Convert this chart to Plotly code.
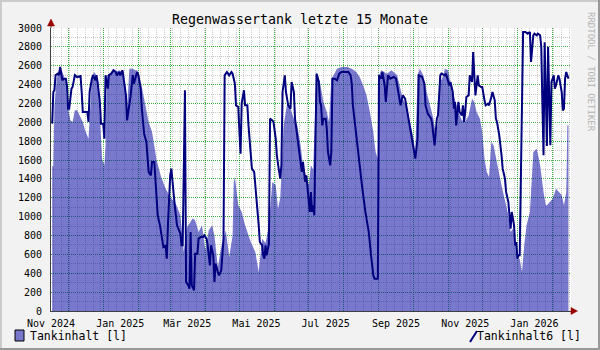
import plotly.graph_objects as go
import pandas as pd

TITLE = "Regenwassertank letzte 15 Monate"
WATERMARK = "RRDTOOL / TOBI OETIKER"
EPOCH = "2025-01-01"  # day 0 of the day lists below

# Tankinhalt [l]  (area)  -- days since 2025-01-01, litres
tank_day = [-45, -44, -43, -41, -39, -37, -35, -33, -32, -30, -29, -27, -25, -23, -21, -18, -16, -14,
            -13, -11, -10, -8, -6, -4, -2, -1, 1, 2, 3, 5, 8, 11, 14, 17, 19, 21, 23, 26, 28, 30, 32,
            34, 36, 38, 40, 43, 45, 47, 51, 55, 59, 64, 68, 71, 74, 79, 81, 84, 87, 90, 93, 96, 98,
            101, 104, 108, 111, 114, 115, 116, 119, 122, 125, 130, 134, 137, 140, 143, 146, 149, 152,
            154, 156, 159, 162, 165, 168, 171, 174, 176, 181, 183, 185, 187, 188, 191, 194, 197, 199,
            201, 203, 206, 210, 215, 219, 223, 226, 229, 232, 235, 238, 240, 242, 243, 245, 250, 254,
            259, 262, 264, 267, 270, 273, 275, 277, 279, 282, 285, 288, 291, 293, 295, 297, 300, 301,
            304, 306, 308, 310, 313, 316, 319, 322, 325, 327, 329, 332, 334, 336, 338, 340, 342, 344,
            346, 348, 351, 354, 357, 359, 361, 363, 366, 367, 369, 371, 373, 376, 379, 382, 385, 388,
            390, 391, 394, 396, 399, 402, 404, 406, 408, 409, 410]
tank_val = [1544, 1527, 2180, 2463, 2552, 2569, 2498, 2428, 2216, 2074, 2021, 2004, 2127, 2127, 2074,
            2004, 1915, 1862, 1827, 2251, 2481, 2534, 2498, 2286, 1827, 1615, 1544, 1756, 2498, 2498,
            2534, 2534, 2552, 2534, 2428, 2145, 2569, 2569, 2552, 2552, 2463, 2375, 2251, 2145, 2004,
            1898, 1750, 1600, 1420, 1297, 1208, 1138, 1014, 626, 890, 982, 960, 837, 908, 643, 855,
            908, 800, 466, 678, 855, 572, 800, 1368, 1420, 1120, 1050, 908, 732, 626, 413, 767, 720,
            908, 1368, 1332, 1085, 1200, 1968, 2200, 2145, 2039, 1968, 1750, 1544, 1332, 1544, 1500,
            2322, 2534, 2428, 2216, 2110, 2004, 2463, 2498, 2569, 2587, 2587, 2569, 2534, 2481, 2392,
            2286, 2110, 1898, 1686, 1615, 2498, 2552, 2516, 2552, 2498, 2357, 2251, 2180, 2004, 1862,
            1686, 2498, 2569, 2498, 2322, 2180, 2039, 1862, 2004, 2428, 2498, 2569, 2552, 2410, 2322,
            2216, 2110, 2021, 2004, 2074, 2251, 2216, 2110, 2039, 1898, 1615, 1474, 1421, 1792, 1756,
            1615, 1509, 1332, 1156, 1014, 837, 873, 732, 555, 555, 413, 696, 908, 1050, 1686, 1721,
            1544, 1262, 1120, 1120, 1156, 1191, 1297, 1262, 1230, 1120, 1262, 1968, 1968]

# Tankinhalt6 [l]  (line)  -- days since 2025-01-01, litres
tank6_day = [-45, -44, -43, -42, -40, -39, -38, -37, -36, -35, -33, -32, -31, -30, -28, -27, -25, -23,
             -20, -19, -18, -15, -14, -13, -12, -10, -9, -7, -6, -5, -3, -2, 0, 1, 2, 4, 5, 7, 9, 11,
             12, 14, 15, 17, 18, 20, 21, 23, 24, 26, 27, 29, 30, 31, 33, 34, 36, 38, 40, 42, 43, 45,
             47, 48, 50, 52, 53, 55, 56, 57, 59, 60, 61, 63, 65, 67, 68, 69, 70, 72, 73, 75, 76, 77,
             78, 80, 81, 83, 84, 86, 88, 89, 91, 92, 94, 95, 97, 98, 99, 101, 102, 104, 105, 106, 107,
             109, 111, 113, 114, 116, 117, 119, 120, 121, 122, 124, 125, 127, 128, 130, 131, 133, 134,
             136, 137, 138, 140, 141, 142, 143, 144, 146, 147, 149, 150, 152, 153, 155, 156, 157, 158,
             160, 161, 163, 165, 166, 168, 169, 171, 172, 174, 175, 176, 178, 179, 181, 182, 183, 184,
             185, 186, 187, 188, 190, 191, 192, 193, 194, 196, 197, 198, 200, 201, 202, 204, 206, 208,
             210, 213, 216, 218, 219, 220, 222, 224, 228, 231, 234, 236, 238, 239, 242, 243, 245, 246,
             248, 249, 251, 253, 256, 258, 259, 262, 264, 266, 268, 270, 272, 275, 277, 278, 281, 283,
             284, 286, 289, 290, 292, 294, 295, 297, 298, 301, 302, 303, 305, 306, 308, 309, 310, 311,
             313, 314, 316, 317, 318, 319, 320, 322, 323, 325, 326, 327, 328, 330, 331, 333, 334, 336,
             337, 339, 340, 342, 343, 345, 346, 347, 349, 351, 352, 354, 355, 357, 358, 359, 360, 362,
             363, 364, 365, 366, 367, 368, 369, 370, 372, 374, 376, 377, 379, 380, 382, 383, 385, 386,
             387, 388, 389, 390, 391, 392, 393, 394, 395, 397, 398, 399, 401, 402, 404, 405, 406, 407,
             408, 410]
tank6_val = [1986, 2322, 2340, 2500, 2516, 2500, 2587, 2534, 2445, 2463, 2463, 2392, 2145, 2145, 2357,
             2375, 2500, 2480, 2490, 2322, 2110, 2110, 2110, 2004, 2322, 2463, 2500, 2445, 2500, 2428,
             2216, 1986, 1986, 1827, 2500, 2357, 2500, 2516, 2552, 2534, 2498, 2534, 2498, 2552, 2463,
             2286, 2021, 2180, 2269, 2500, 2410, 2500, 2534, 2500, 2357, 2145, 1880, 1792, 1474, 1438,
             1580, 1580, 1262, 1014, 908, 714, 678, 696, 555, 908, 1438, 1509, 1368, 1120, 908, 837,
             820, 696, 696, 2340, 307, 272, 237, 837, 272, 219, 608, 608, 767, 784, 784, 802, 767, 696,
             484, 696, 590, 307, 502, 413, 378, 431, 590, 767, 2498, 2534, 2498, 2534, 2516, 2410, 2180,
             2163, 1898, 1668, 2200, 2340, 2180, 2180, 1968, 1686, 1509, 1474, 1332, 1120, 908, 732, 696,
             590, 555, 696, 590, 714, 2039, 2021, 2004, 1827, 1650, 1474, 1403, 1544, 2322, 2498, 2322,
             2180, 2145, 2428, 2322, 2039, 1862, 1756, 1580, 1474, 1580, 1368, 1438, 1120, 1050, 1262,
             1050, 1120, 1014, 1800, 2516, 2428, 2216, 2180, 1968, 2039, 2039, 1933, 1686, 1544, 1686,
             2463, 2463, 2445, 2516, 2534, 2534, 2534, 2498, 2410, 2180, 1968, 1686, 1332, 1050, 837,
             590, 378, 343, 343, 2498, 2463, 2534, 2392, 2216, 2498, 2463, 2481, 2463, 2392, 2180, 2286,
             2251, 2110, 1968, 1862, 1615, 1827, 2498, 2481, 2410, 2180, 2092, 2039, 1968, 1756, 2039,
             2074, 2498, 2516, 2498, 2516, 2481, 2392, 2428, 2322, 2145, 2216, 1968, 2216, 2110, 2074,
             2180, 2004, 2110, 2269, 2286, 2498, 2428, 2746, 2498, 2286, 2498, 2392, 2375, 2375, 2233,
             2180, 2198, 2180, 2269, 2322, 2233, 2039, 2004, 1862, 1650, 1509, 1403, 1262, 1156, 1014,
             873, 1050, 908, 696, 732, 555, 590, 590, 1400, 2100, 2958, 2958, 2940, 2958, 2640, 2923,
             2940, 2923, 2940, 2923, 2800, 2200, 1650, 2850, 2400, 1750, 2800, 2100, 1756, 2428, 2498,
             2357, 2392, 2498, 2463, 2322, 2127, 2145, 2463, 2534, 2463]

x_start = "2024-11-15 23:00"
x_end = "2026-02-17 05:00"

label_dates = ["2024-11-16", "2025-01-16", "2025-03-16", "2025-05-16",
               "2025-07-16", "2025-09-16", "2025-11-16", "2026-01-16"]
label_text = ["Nov 2024", "Jan 2025", "Mär 2025", "Mai 2025",
              "Jul 2025", "Sep 2025", "Nov 2025", "Jan 2026"]
month_starts = pd.date_range("2024-12-01", "2026-02-01", freq="MS")

FONT = "DejaVu Sans Mono"
GREEN = "rgba(0,150,0,0.75)"
GREY = "rgba(150,150,150,0.5)"
DASH = "1px,1px"
AREA = "rgba(0,0,160,0.53)"
LINE = "#00007F"

epoch = pd.Timestamp(EPOCH)
tank_x = epoch + pd.to_timedelta(tank_day, unit="D")
tank6_x = epoch + pd.to_timedelta(tank6_day, unit="D")

fig = go.Figure()
fig.add_trace(go.Scatter(x=tank_x, y=tank_val, name="Tankinhalt [l]", mode="lines",
                         fill="tozeroy", fillcolor=AREA, line=dict(width=0, color=AREA),
                         xaxis="x", yaxis="y"))
fig.add_trace(go.Scatter(x=tank6_x, y=tank6_val, name="Tankinhalt6 [l]", mode="lines",
                         line=dict(width=2, color=LINE), xaxis="x2", yaxis="y"))

fig.update_layout(
    width=600, height=350,
    margin=dict(l=51, r=29, t=28, b=39),
    paper_bgcolor="#F2F2F2", plot_bgcolor="#FFFFFF",
    showlegend=False,
    font=dict(family=FONT, size=10, color="#000000"),
    title=dict(text=TITLE, x=0.5, xref="container", xanchor="center",
               y=1 - 19 / 350, yref="container", yanchor="middle",
               font=dict(family=FONT, size=13.3, color="#000000")),
    xaxis=dict(type="date", range=[x_start, x_end], tickmode="array",
               tickvals=label_dates, ticktext=label_text, ticks="",
               showgrid=False, zeroline=False, showline=True, linecolor="#404040",
               linewidth=1, tickfont=dict(size=10), ticklabelstandoff=3,
               minor=dict(tickmode="array", tickvals=month_starts, showgrid=True,
                          gridcolor=GREEN, griddash=DASH, gridwidth=1, ticks="")),
    xaxis2=dict(type="date", overlaying="x", anchor="y", side="bottom",
                range=[x_start, x_end], tick0="2024-11-18", dtick=7 * 86400000,
                showticklabels=False, ticks="", showgrid=True, gridcolor=GREY,
                griddash=DASH, gridwidth=1, zeroline=False, showline=False),
    yaxis=dict(range=[0, 3000], tickmode="linear", tick0=0, dtick=200, ticks="",
               showgrid=True, gridcolor=GREEN, griddash=DASH, gridwidth=1,
               zeroline=False, showline=True, linecolor="#404040", linewidth=1,
               tickfont=dict(size=10), ticklabelstandoff=6,
               minor=dict(dtick=100, showgrid=True, gridcolor=GREY, griddash=DASH,
                          gridwidth=1, ticks="")),
)

shapes = []
# axis arrows
shapes.append(dict(type="line", xref="paper", yref="paper", xanchor=0, yanchor=1,
                   xsizemode="pixel", ysizemode="pixel", x0=0, x1=0, y0=0, y1=5,
                   line=dict(color="#404040", width=1)))
shapes.append(dict(type="path", xref="paper", yref="paper", xanchor=0, yanchor=1,
                   xsizemode="pixel", ysizemode="pixel", path="M-3.5,2 L3.5,2 L0,9 Z",
                   fillcolor="#990000", line=dict(color="#990000", width=0.5)))
shapes.append(dict(type="path", xref="paper", yref="paper", xanchor=1, yanchor=0,
                   xsizemode="pixel", ysizemode="pixel", path="M0,-3.5 L0,3.5 L6.5,0 Z",
                   fillcolor="#990000", line=dict(color="#990000", width=0.5)))
# frame shading
shapes.append(dict(type="line", xref="paper", yref="paper", xanchor=0, yanchor=0,
                   xsizemode="pixel", ysizemode="pixel", x0=-50, x1=-50, y0=-39, y1=311,
                   line=dict(color="#CBCBCB", width=2)))
shapes.append(dict(type="line", xref="paper", yref="paper", xanchor=0, yanchor=0,
                   xsizemode="pixel", ysizemode="pixel", x0=-51, x1=549, y0=310, y1=310,
                   line=dict(color="#CBCBCB", width=2)))
shapes.append(dict(type="line", xref="paper", yref="paper", xanchor=0, yanchor=0,
                   xsizemode="pixel", ysizemode="pixel", x0=548, x1=548, y0=-39, y1=311,
                   line=dict(color="#999999", width=2)))
shapes.append(dict(type="line", xref="paper", yref="paper", xanchor=0, yanchor=0,
                   xsizemode="pixel", ysizemode="pixel", x0=-51, x1=549, y0=-38, y1=-38,
                   line=dict(color="#999999", width=2)))
# legend symbols
shapes.append(dict(type="rect", xref="paper", yref="paper", xanchor=0, yanchor=0,
                   xsizemode="pixel", ysizemode="pixel", x0=-36, x1=-27, y0=-19, y1=-30,
                   fillcolor="#7777CC", line=dict(color="#000000", width=1)))
shapes.append(dict(type="line", xref="paper", yref="paper", xanchor=1, yanchor=0,
                   xsizemode="pixel", ysizemode="pixel", x0=-101, x1=-94, y0=-31, y1=-20,
                   line=dict(color=LINE, width=2)))
fig.update_layout(shapes=shapes)

fig.add_annotation(text="Tankinhalt [l]", xref="paper", yref="paper", x=0, y=0,
                   xanchor="left", yanchor="middle", xshift=-23, yshift=-25,
                   showarrow=False, font=dict(family=FONT, size=11.5, color="#000000"))
fig.add_annotation(text="Tankinhalt6 [l]", xref="paper", yref="paper", x=1, y=0,
                   xanchor="right", yanchor="middle", xshift=12, yshift=-25,
                   showarrow=False, font=dict(family=FONT, size=11.5, color="#000000"))
fig.add_annotation(text=WATERMARK, xref="paper", yref="paper", x=1, y=1,
                   xanchor="center", yanchor="middle", xshift=20, yshift=-44,
                   textangle=90, showarrow=False,
                   font=dict(family=FONT, size=9, color="#B4B4B4"))

fig.write_html("out.html")
